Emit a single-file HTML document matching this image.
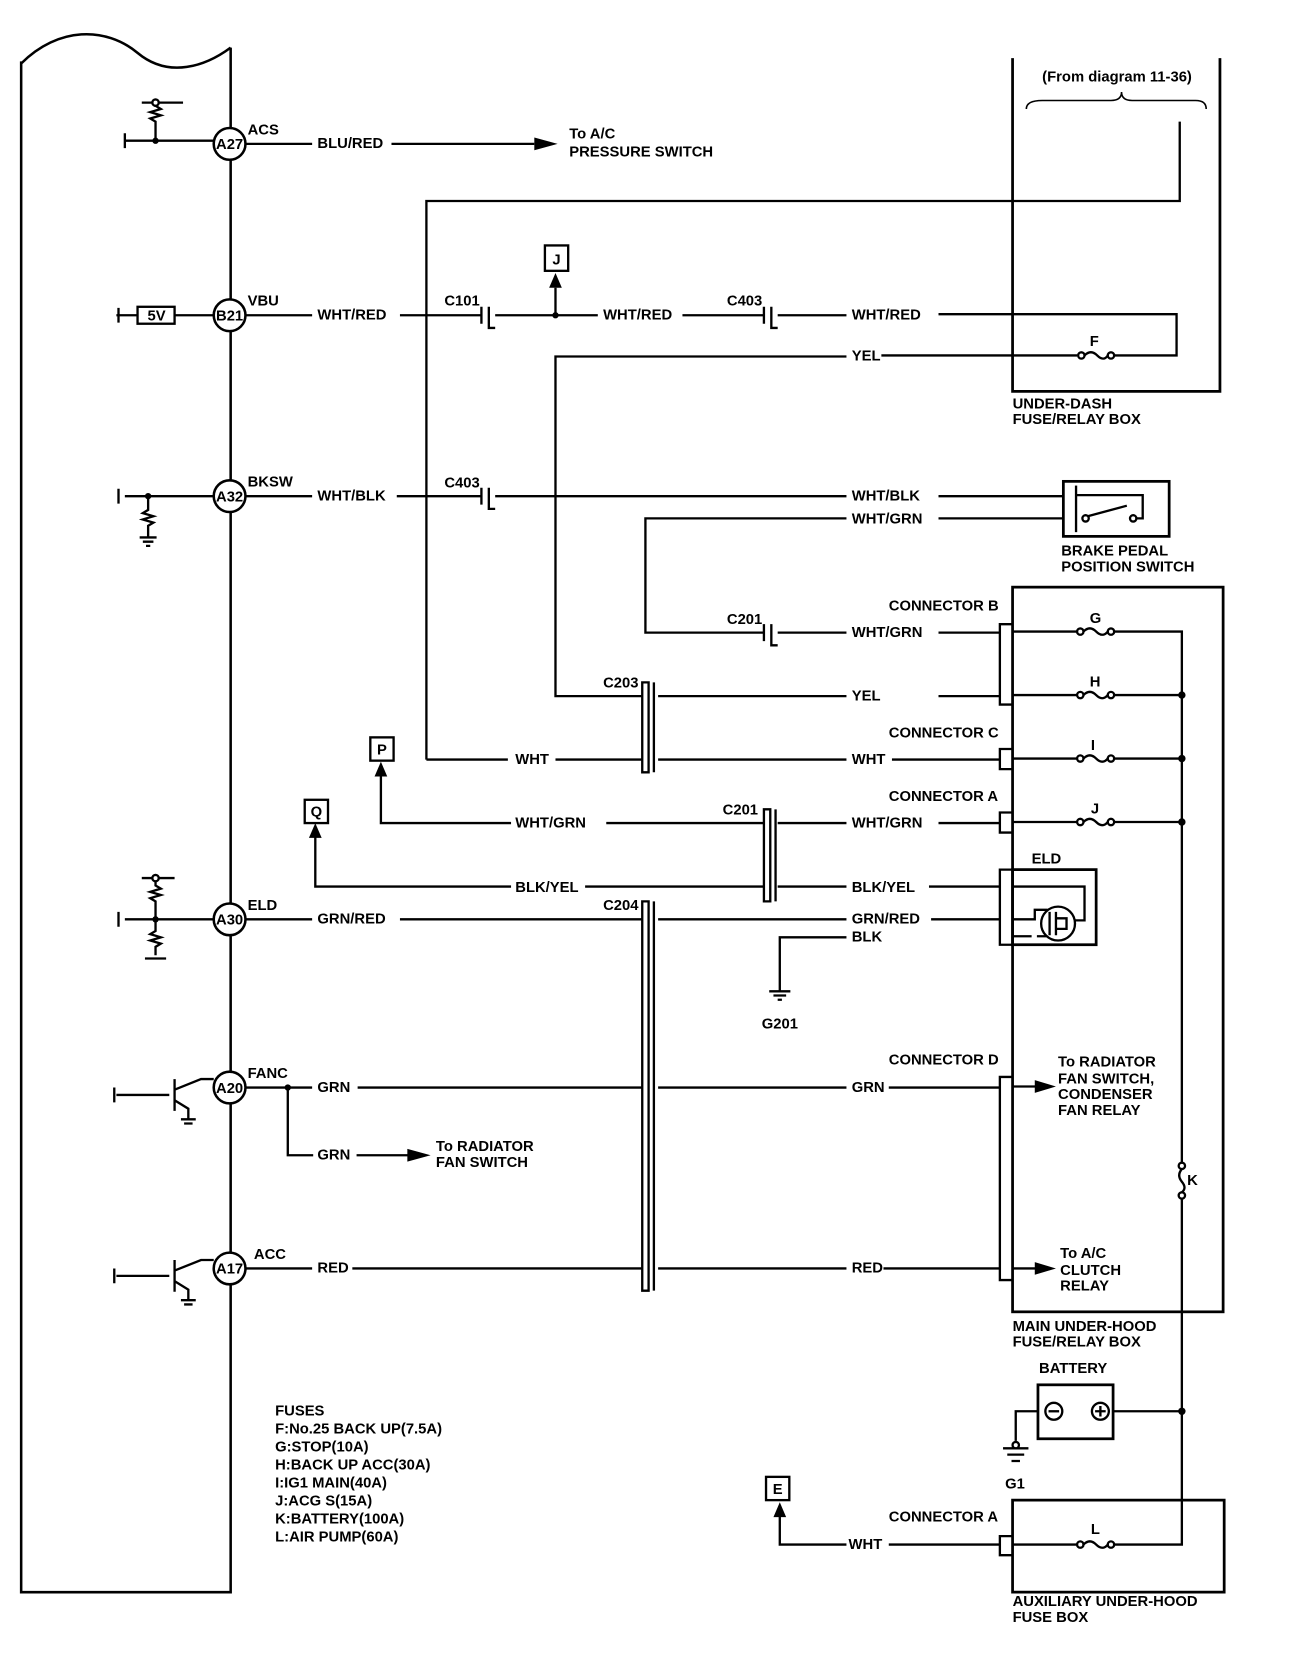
<!DOCTYPE html>
<html><head><meta charset="utf-8"><style>
html,body{margin:0;padding:0;background:#fff}
svg{display:block}
text{font-family:"Liberation Sans",sans-serif;font-weight:bold;font-size:14px;fill:#000}
.s{font-size:13px}
</style></head><body>
<svg width="1312" height="1662" viewBox="0 0 1240 1571" preserveAspectRatio="none" xmlns="http://www.w3.org/2000/svg">
<g fill="none" stroke="#000" stroke-width="2.2">
<path d="M20,60 C55,25 100,25 130,50 C160,75 195,62 218,45 M20,58 V1505 H218 V45" stroke-width="2.4"/>
<g fill="#fff" stroke-width="2.4">
<circle cx="217" cy="136" r="15"/><circle cx="217" cy="298" r="15"/><circle cx="217" cy="469" r="15"/>
<circle cx="217" cy="869" r="15"/><circle cx="217" cy="1028" r="15"/><circle cx="217" cy="1199" r="15"/>
</g>
<path d="M118,133 H202 M147,133 V115 l-5,-3 l10,-3 l-10,-3 l10,-3 l-5,-3 V101 M134,97 H173"/>
<circle cx="147" cy="97" r="3" fill="#fff"/>
<path d="M118,126 V140 M232,136 H295 M370,136 H505"/>
<path d="M403,718 V190 H1115 V115"/>
<path d="M957,55 V370 H1153 V55" stroke-width="2.6"/>
<path d="M970,103 Q970,95 985,95 H1050 Q1060,95 1060,87 Q1060,95 1070,95 H1130 Q1140,95 1140,103" stroke-width="1.5"/>
<path d="M110,298 H130 M165,298 H202 M112,291 V305"/>
<rect x="130" y="290" width="35" height="16"/>
<path d="M232,298 H295 M378,298 H455 M455,290 V306 M468,298 H565 M462,290 V310 H468 M645,298 H722 M722,290 V306 M735,298 H800 M729,290 V310 H735 M887,297 H1112 V336 H1052 M1018,336 H833 M800,337 H525 V658 H607"/>
<path d="M525,298 V272"/>
<rect x="515" y="232" width="22" height="24"/>
<circle cx="1022" cy="336" r="3" fill="#fff"/><circle cx="1050" cy="336" r="3" fill="#fff"/>
<path d="M1025,336 q6,-6 12,0 q6,6 10,0"/>
<path d="M118,469 H202 M140,469 V482 l-5,3 l10,3 l-10,3 l10,3 l-5,3 V508 M132,508 H148 M135,512 H145 M138,516 H142 M112,462 V476"/>
<path d="M232,469 H295 M375,469 H455 M455,461 V477 M462,461 V481 H468 M468,469 H800 M887,469 H1005 M887,490 H1005 M800,490 H610 V598 H722 M722,590 V606 M729,590 V610 H735 M735,598 H800 M887,598 H945"/>
<rect x="1005" y="455" width="100" height="52" stroke-width="2.6"/>
<path d="M1017,459 V503"/>
<circle cx="1026" cy="490" r="3" fill="#fff"/><circle cx="1071" cy="490" r="3" fill="#fff"/>
<path d="M1028,488 L1065,478 M1074,490 H1080 V468 H1017"/>
<rect x="957" y="555" width="199" height="685" stroke-width="2.6"/>
<path d="M957,590 H945 V666 H957" />
<path d="M957,597 H1018 M1052,597 H1117 V1458 M957,657 H1018 M1052,657 H1117 M957,717 H1018 M1052,717 H1117 M957,777 H1018 M1052,777 H1117"/>
<g fill="#fff"><circle cx="1021" cy="597" r="3"/><circle cx="1050" cy="597" r="3"/><circle cx="1021" cy="657" r="3"/><circle cx="1050" cy="657" r="3"/><circle cx="1021" cy="717" r="3"/><circle cx="1050" cy="717" r="3"/><circle cx="1021" cy="777" r="3"/><circle cx="1050" cy="777" r="3"/></g>
<path d="M1024,597 q6,-6 12,0 q6,6 11,0 M1024,657 q6,-6 12,0 q6,6 11,0 M1024,717 q6,-6 12,0 q6,6 11,0 M1024,777 q6,-6 12,0 q6,6 11,0"/>
<rect x="1110" y="1100" width="14" height="33" fill="#fff" stroke="none"/>
<circle cx="1117" cy="1102" r="3" fill="#fff"/><circle cx="1117" cy="1130" r="3" fill="#fff"/>
<path d="M1117,1105 q-5,6 0,12 q5,6 0,10"/>
<path d="M607,645 H613 V730 H607 Z M618,645 V730 M622,658 H800 M887,658 H945"/>
<path d="M403,718 H480 M525,718 H607 M622,718 H800 M843,718 H945 M957,708 H945 V727 H957"/>
<rect x="350" y="697" width="22" height="22"/>
<rect x="288" y="756" width="22" height="22"/>
<path d="M360,732 V778 H483 M573,778 H722 M298,790 V838 H483 M553,838 H722"/>
<path d="M722,765 H728 V852 H722 Z M733,765 V852 M735,778 H800 M887,778 H945 M957,768 H945 V787 H957 M735,838 H800 M878,838 H945"/>
<path d="M957,822 H945 V893 H957"/>
<rect x="957" y="822" width="79" height="71" stroke-width="2.6"/>
<path d="M957,838 H1025 V870 H1016 M957,869 H978 V860 H990 M957,885 H975 M980,885 H990"/>
<circle cx="1000" cy="873" r="16"/>
<path d="M992,862 V884 M998,862 V884 M998,868 H1008 V878 H998"/>
<path d="M118,869 H202 M147,869 V852 l-5,-3 l10,-3 l-10,-3 l10,-3 l-5,-3 V830 M134,830 H165 M147,869 V880 l-5,3 l10,3 l-10,3 l10,3 l-5,3 V903 M137,906 H157 M112,862 V876"/>
<circle cx="147" cy="830" r="3" fill="#fff"/>
<path d="M232,869 H295 M378,869 H607 M607,852 H613 V1220 H607 Z M618,852 V1220 M622,869 H800 M880,869 H945 M800,886 H737 V937 M727,937 H747 M731,941 H743 M735,945 H739"/>
<path d="M110,1035 H160 M165,1020 V1050 M165,1030 L190,1020 H202 M165,1040 L178,1048 V1058 M171,1058 H185 M174,1062 H182 M108,1028 V1042"/>
<path d="M232,1028 H295 M338,1028 H607 M622,1028 H800 M840,1028 H945 M957,1018 H945 V1210 H957 M957,1027 H985 M272,1028 V1092 H296 M337,1092 H392"/>
<path d="M110,1206 H160 M165,1191 V1221 M165,1201 L190,1191 H202 M165,1211 L178,1219 V1229 M171,1229 H185 M174,1233 H182 M108,1199 V1213"/>
<path d="M232,1199 H295 M333,1199 H607 M622,1199 H800 M835,1199 H945 M957,1199 H985"/>
<rect x="981" y="1309" width="71" height="51" stroke-width="2.6"/>
<circle cx="996" cy="1334" r="8"/><path d="M991,1334 H1001"/>
<circle cx="1040" cy="1334" r="8"/><path d="M1035,1334 H1045 M1040,1329 V1339"/>
<path d="M1052,1334 H1117 M981,1334 H960 V1362 M948,1369 H972 M952,1375 H968 M956,1381 H964"/>
<circle cx="960" cy="1366" r="3" fill="#fff"/>
<path d="M957,1418 H1157 V1505 H957 Z" stroke-width="2.6"/>
<path d="M957,1460 H1018 M1052,1460 H1117 V1458 M957,1452 H945 V1470 H957 M840,1460 H945 M800,1460 H737 V1432"/>
<g fill="#fff"><circle cx="1021" cy="1460" r="3"/><circle cx="1050" cy="1460" r="3"/></g>
<path d="M1024,1460 q6,-6 12,0 q6,6 11,0"/>
<rect x="724" y="1396" width="22" height="22"/>
</g>
<g fill="#000">
<circle cx="147" cy="133" r="3"/><circle cx="140" cy="469" r="3"/><circle cx="147" cy="869" r="3"/>
<circle cx="525" cy="298" r="3"/><circle cx="272" cy="1028" r="3"/>
<circle cx="1117" cy="657" r="3.5"/><circle cx="1117" cy="717" r="3.5"/><circle cx="1117" cy="777" r="3.5"/><circle cx="1117" cy="1334" r="3.5"/>
<path d="M505,130 L527,136 L505,142 Z"/>
<path d="M385,1086 L407,1092 L385,1098 Z"/>
<path d="M978,1021 L998,1027 L978,1033 Z"/>
<path d="M978,1193 L998,1199 L978,1205 Z"/>
<path d="M519,272 L525,258 L531,272 Z"/>
<path d="M354,734 L360,720 L366,734 Z"/>
<path d="M292,792 L298,778 L304,792 Z"/>
<path d="M731,1434 L737,1420 L743,1434 Z"/>
</g>
<g class="s" text-anchor="middle" font-size="12">
<text x="217" y="141">A27</text><text x="217" y="303">B21</text><text x="217" y="474">A32</text>
<text x="217" y="874">A30</text><text x="217" y="1033">A20</text><text x="217" y="1204">A17</text>
<text x="148" y="303">5V</text>
<text x="526" y="250">J</text><text x="361" y="713">P</text><text x="299" y="772">Q</text><text x="735" y="1412">E</text>
</g>
<text x="234" y="127">ACS</text><text x="234" y="289">VBU</text><text x="234" y="460">BKSW</text>
<text x="234" y="860">ELD</text><text x="234" y="1019">FANC</text><text x="240" y="1190">ACC</text>
<text x="300" y="140">BLU/RED</text>
<text x="538" y="131">To A/C</text><text x="538" y="148">PRESSURE SWITCH</text>
<text x="985" y="77" font-size="12">(From diagram 11-36)</text>
<text x="300" y="302">WHT/RED</text><text x="420" y="289">C101</text>
<text x="570" y="302">WHT/RED</text><text x="687" y="289">C403</text>
<text x="805" y="302">WHT/RED</text><text x="805" y="341">YEL</text>
<text x="1030" y="327">F</text>
<text x="957" y="386">UNDER-DASH</text><text x="957" y="401">FUSE/RELAY BOX</text>
<text x="300" y="473">WHT/BLK</text><text x="420" y="461">C403</text>
<text x="805" y="473">WHT/BLK</text><text x="805" y="495">WHT/GRN</text>
<text x="1003" y="525">BRAKE PEDAL</text><text x="1003" y="540">POSITION SWITCH</text>
<text x="840" y="577">CONNECTOR B</text><text x="1030" y="589">G</text>
<text x="687" y="590">C201</text><text x="805" y="602">WHT/GRN</text>
<text x="570" y="650">C203</text><text x="805" y="662">YEL</text><text x="1030" y="649">H</text>
<text x="840" y="697">CONNECTOR C</text><text x="1031" y="709">I</text>
<text x="487" y="722">WHT</text><text x="805" y="722">WHT</text>
<text x="840" y="757">CONNECTOR A</text><text x="1031" y="769">J</text>
<text x="487" y="782">WHT/GRN</text><text x="683" y="770">C201</text><text x="805" y="782">WHT/GRN</text>
<text x="487" y="843">BLK/YEL</text><text x="805" y="843">BLK/YEL</text>
<text x="975" y="816">ELD</text>
<text x="300" y="873">GRN/RED</text><text x="570" y="860">C204</text>
<text x="805" y="873">GRN/RED</text><text x="805" y="890">BLK</text>
<text x="720" y="972">G201</text>
<text x="840" y="1006">CONNECTOR D</text>
<text x="300" y="1032">GRN</text><text x="805" y="1032">GRN</text>
<text x="1000" y="1008">To RADIATOR</text><text x="1000" y="1024">FAN SWITCH,</text><text x="1000" y="1039">CONDENSER</text><text x="1000" y="1054">FAN RELAY</text>
<text x="300" y="1096">GRN</text>
<text x="412" y="1088">To RADIATOR</text><text x="412" y="1103">FAN SWITCH</text>
<text x="1122" y="1120">K</text>
<text x="300" y="1203">RED</text><text x="805" y="1203">RED</text>
<text x="1002" y="1189">To A/C</text><text x="1002" y="1205">CLUTCH</text><text x="1002" y="1220">RELAY</text>
<text x="957" y="1258">MAIN UNDER-HOOD</text><text x="957" y="1273">FUSE/RELAY BOX</text>
<text x="982" y="1298">BATTERY</text><text x="950" y="1407">G1</text>
<text x="840" y="1438">CONNECTOR A</text><text x="1031" y="1450">L</text>
<text x="802" y="1464">WHT</text>
<text x="957" y="1518">AUXILIARY UNDER-HOOD</text><text x="957" y="1533">FUSE BOX</text>
<g font-size="13.5">
<text x="260" y="1338">FUSES</text>
<text x="260" y="1355">F:No.25 BACK UP(7.5A)</text>
<text x="260" y="1372">G:STOP(10A)</text>
<text x="260" y="1389">H:BACK UP ACC(30A)</text>
<text x="260" y="1406">I:IG1 MAIN(40A)</text>
<text x="260" y="1423">J:ACG S(15A)</text>
<text x="260" y="1440">K:BATTERY(100A)</text>
<text x="260" y="1457">L:AIR PUMP(60A)</text>
</g>
</svg>
</body></html>
